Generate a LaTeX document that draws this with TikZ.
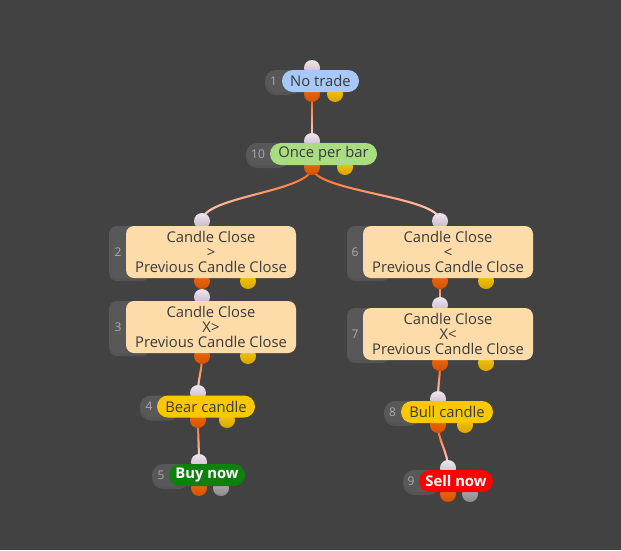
\documentclass[tikz,border=0pt]{standalone}
\usepackage{fontspec}
\setmainfont{Open Sans}
\usetikzlibrary{fadings,shadows}
\definecolor{canvas}{HTML}{424242}
\definecolor{numgray}{HTML}{585858}
\definecolor{numtext}{HTML}{ABABAB}
\definecolor{inktext}{HTML}{3A3A3A}
\definecolor{bluepill}{HTML}{A8C8F8}
\definecolor{greenpill}{HTML}{AADC82}
\definecolor{peachbox}{HTML}{FDDCAA}
\definecolor{yellowpill}{HTML}{FAC800}
\definecolor{buygreen}{HTML}{0E800E}
\definecolor{sellred}{HTML}{FF0000}
\definecolor{intop}{HTML}{F0E6F0}
\definecolor{inbot}{HTML}{C4B2C6}
\definecolor{outtop}{HTML}{F06E10}
\definecolor{outbot}{HTML}{D45000}
\definecolor{yeltop}{HTML}{F6CC10}
\definecolor{yelbot}{HTML}{D8A400}
\definecolor{grytop}{HTML}{B4B4B4}
\definecolor{grybot}{HTML}{8A8A8A}
\definecolor{wireorange}{HTML}{FF5A00}
\definecolor{wirepink}{HTML}{FCE8EE}
\pgfdeclarelayer{wires}
\pgfsetlayers{wires,main}
\tikzfading[name=fadedown,top color=transparent!100,middle color=transparent!90,bottom color=transparent!0]

\begin{document}
\begin{tikzpicture}[x=1pt,y=-1pt,font=\fontsize{14.8}{15}\selectfont,
 shade/.style={drop shadow={shadow xshift=0pt,shadow yshift=-3pt,opacity=.3}},
 numbox/.style={fill=numgray,rounded corners=11pt,minimum height=22pt,inner sep=0pt,shade},
 bignum/.style={fill=numgray,rounded corners=8pt,minimum height=52pt,inner sep=0pt,shade},
 num/.style={text=numtext,inner sep=0pt,font=\fontsize{12}{12}\selectfont},
 pill/.style={rounded corners=11pt,minimum height=22pt,inner sep=0pt,text=inktext},
 bold/.style={text=white,font=\fontsize{14.8}{15}\selectfont\bfseries},
 bigbox/.style={fill=peachbox,rounded corners=8pt,minimum height=52pt,minimum width=170pt,inner sep=0pt,align=center,text=inktext},
 port/.style={circle,minimum size=16pt,inner sep=0pt},
 link/.style={line width=2pt,draw=wireorange,postaction={draw=wirepink,path fading=fadedown}}]
\begin{pgfonlayer}{wires}
\fill[canvas] (0,0) rectangle (621,550);
\end{pgfonlayer}
\useasboundingbox (0,0) rectangle (621,550);
% number tabs
\foreach \k/\x/\y/\w/\tx in {1/282.5/81/35/273.5,10/268/154/44/258,4/160/406.5/40/149,5/171/475/38/161,8/402/412/36/392.5,9/421.5/481/37/411}{
 \node[numbox,minimum width=\w pt] (b\k) at (\x,\y) {};
 \node[num] (t\k) at (\tx,\y) {\k};
}
\foreach \k/\x/\y/\w/\tx in {2/129.5/252/41/118,3/129.5/327/41/118,6/368.5/252/43/355,7/368.5/334/43/355}{
 \node[bignum,minimum width=\w pt] (b\k) at (\x,\y) {};
 \node[num] (t\k) at (\tx,\y) {\k};
}
% ports
\foreach \k/\x/\yi/\yo/\xs/\pc in {1/312/68/94/335/yel,10/312/141/167/345/yel,2/202/221/281/248/yel,3/202/297/356/248/yel,4/198/393/420/227/yel,5/199/462/488/221/gry,6/440/221/281/486/yel,7/440/305/363/486/yel,8/438/399/425/465/yel,9/448/468/494/470/gry}{
 \node[port,top color=intop,bottom color=inbot] (i\k) at (\x,\yi) {};
 \node[port,top color=outtop,bottom color=outbot] (o\k) at (\x,\yo) {};
 \node[port,top color=\pc top,bottom color=\pc bot] (s\k) at (\xs,\yo) {};
}
% blocks
\node[pill,fill=bluepill,minimum width=77pt] (n1) at (320.5,81) {No trade};
\node[pill,fill=greenpill,minimum width=107pt] (n10) at (323.5,154) {Once per bar};
\node[bigbox] (n2) at (211,252) {Candle Close\\>\\Previous Candle Close};
\node[bigbox] (n3) at (211,327) {Candle Close\\X>\\Previous Candle Close};
\node[pill,fill=yellowpill,minimum width=98pt] (n4) at (206,406.5) {Bear candle};
\node[pill,fill=buygreen,minimum width=76pt,bold] (n5) at (207,475) {Buy now};
\node[bigbox] (n6) at (448,252) {Candle Close\\<\\Previous Candle Close};
\node[bigbox] (n7) at (448,334) {Candle Close\\X<\\Previous Candle Close};
\node[pill,fill=yellowpill,minimum width=92pt] (n8) at (447,412) {Bull candle};
\node[pill,fill=sellred,minimum width=74pt,bold] (n9) at (456,481) {Sell now};
% wires
\begin{pgfonlayer}{wires}
\draw[link] (o1.center) -- (i10.center) +(-4,0) +(4,0);
\draw[link] (o10.center) .. controls +(0,25) and +(0,-25) .. (i2.center) +(-4,0) +(4,0);
\draw[link] (o10.center) .. controls +(0,25) and +(0,-25) .. (i6.center) +(-4,0) +(4,0);
\draw[link] (o2.center) -- (i3.center) +(-4,0) +(4,0);
\draw[link] (o3.center) .. controls +(0,15) and +(0,-15) .. (i4.center) +(-4,0) +(4,0);
\draw[link] (o4.center) .. controls +(0,14) and +(0,-14) .. (i5.center) +(-4,0) +(4,0);
\draw[link] (o6.center) -- (i7.center) +(-4,0) +(4,0);
\draw[link] (o7.center) .. controls +(0,15) and +(0,-15) .. (i8.center) +(-4,0) +(4,0);
\draw[link] (o8.center) .. controls +(0,16) and +(0,-16) .. (i9.center) +(-4,0) +(4,0);
\end{pgfonlayer}
\end{tikzpicture}
\end{document}
